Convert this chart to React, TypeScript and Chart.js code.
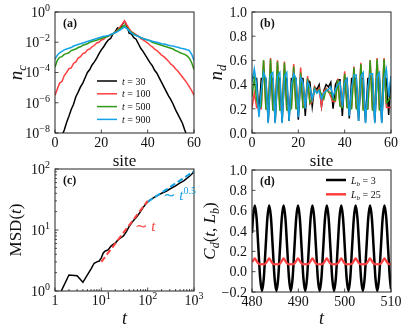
import React, { useEffect, useRef } from "react";
import { Chart, registerables } from "chart.js";

Chart.register(...registerables);

const W = 407;
const H = 335;
const SERIF = '"Liberation Serif", "DejaVu Serif", "Times New Roman", serif';

// ---------------- data ----------------
const sites = [
  0, 1, 2, 3, 4, 5, 6, 7, 8, 9, 10, 11, 12, 13, 14, 15, 16, 17, 18, 19, 20,
  21, 22, 23, 24, 25, 26, 27, 28, 29, 30, 31, 32, 33, 34, 35, 36, 37, 38, 39, 40,
  41, 42, 43, 44, 45, 46, 47, 48, 49, 50, 51, 52, 53, 54, 55, 56, 57, 58, 59, 60,
];

// panel (a): log10 of n_c per site
const ncExp30 = [-9.2, -8.9, -8.6, -8.2, -7.8, -7.3, -6.9, -6.45, -6.1, -5.6, -5.3, -4.95, -4.7, -4.35, -4.0, -3.8, -3.5, -3.3, -3.05, -2.75, -2.5, -2.3, -2.05, -1.85, -1.75, -1.45, -1.3, -1.05, -1.1, -0.85, -0.62, -0.9, -1.4, -1.45, -1.7, -1.8, -2.1, -2.4, -2.6, -2.85, -3.1, -3.35, -3.55, -3.85, -4.05, -4.35, -4.65, -4.95, -5.25, -5.55, -5.8, -6.1, -6.45, -6.75, -7.05, -7.35, -7.8, -8.2, -8.6, -9.0, -9.4];
const ncExp100 = [-5.5, -5.1, -4.7, -4.6, -4.2, -4.0, -3.75, -3.7, -3.4, -3.3, -3.05, -2.95, -2.75, -2.7, -2.5, -2.45, -2.3, -2.2, -2.05, -2.0, -1.85, -1.8, -1.65, -1.6, -1.5, -1.45, -1.35, -1.2, -1.0, -0.8, -0.58, -0.85, -1.1, -1.3, -1.4, -1.5, -1.6, -1.75, -1.85, -1.95, -2.05, -2.2, -2.3, -2.45, -2.55, -2.7, -2.85, -2.95, -3.1, -3.25, -3.45, -3.55, -3.75, -3.9, -4.1, -4.3, -4.5, -4.7, -4.95, -5.2, -5.5];
const ncExp500 = [-3.64, -3.2, -3.0, -2.95, -2.8, -2.75, -2.7, -2.55, -2.5, -2.45, -2.35, -2.3, -2.2, -2.15, -2.1, -2.0, -1.95, -1.9, -1.87, -1.8, -1.75, -1.7, -1.65, -1.6, -1.5, -1.45, -1.35, -1.25, -1.1, -1.0, -0.88, -1.05, -1.2, -1.35, -1.45, -1.55, -1.6, -1.7, -1.75, -1.8, -1.85, -1.9, -2.0, -2.05, -2.1, -2.15, -2.2, -2.25, -2.3, -2.35, -2.4, -2.45, -2.55, -2.6, -2.7, -2.75, -2.8, -2.9, -3.05, -3.35, -3.8];
const ncExp900 = [-3.12, -2.85, -2.7, -2.6, -2.5, -2.45, -2.4, -2.35, -2.25, -2.2, -2.15, -2.1, -2.05, -2.0, -1.95, -1.9, -1.85, -1.8, -1.75, -1.7, -1.65, -1.6, -1.58, -1.55, -1.5, -1.42, -1.37, -1.3, -1.2, -1.1, -0.99, -1.1, -1.25, -1.4, -1.5, -1.55, -1.62, -1.68, -1.75, -1.8, -1.85, -1.88, -1.93, -1.97, -2.0, -2.05, -2.1, -2.12, -2.15, -2.2, -2.23, -2.25, -2.3, -2.33, -2.38, -2.42, -2.45, -2.5, -2.55, -2.8, -3.2];
const legendTimes = ["30", "100", "500", "900"];

// panel (b): n_d per site
const nd30 = [0.47, 0.45, 0.45, 0.15, 0.45, 0.45, 0.45, 0.09, 0.45, 0.45, 0.09, 0.45, 0.45, 0.09, 0.45, 0.45, 0.10, 0.45, 0.45, 0.45, 0.11, 0.45, 0.45, 0.14, 0.44, 0.42, 0.22, 0.38, 0.36, 0.40, 0.22, 0.35, 0.40, 0.38, 0.42, 0.20, 0.40, 0.44, 0.44, 0.14, 0.45, 0.45, 0.12, 0.45, 0.45, 0.45, 0.10, 0.45, 0.45, 0.09, 0.45, 0.45, 0.45, 0.09, 0.45, 0.45, 0.09, 0.45, 0.45, 0.15, 0.47];
const nd100 = [0.21, 0.33, 0.21, 0.20, 0.20, 0.60, 0.20, 0.20, 0.62, 0.20, 0.20, 0.60, 0.20, 0.20, 0.59, 0.20, 0.20, 0.21, 0.57, 0.21, 0.21, 0.54, 0.22, 0.23, 0.47, 0.24, 0.26, 0.38, 0.34, 0.37, 0.22, 0.34, 0.37, 0.35, 0.30, 0.26, 0.26, 0.45, 0.23, 0.22, 0.51, 0.22, 0.21, 0.21, 0.55, 0.21, 0.20, 0.58, 0.20, 0.20, 0.20, 0.60, 0.20, 0.20, 0.62, 0.20, 0.20, 0.62, 0.21, 0.21, 0.21];
const nd500 = [0.30, 0.45, 0.27, 0.20, 0.22, 0.60, 0.20, 0.19, 0.61, 0.19, 0.19, 0.59, 0.19, 0.19, 0.58, 0.19, 0.19, 0.20, 0.55, 0.20, 0.20, 0.50, 0.21, 0.22, 0.45, 0.25, 0.28, 0.37, 0.33, 0.36, 0.32, 0.28, 0.36, 0.34, 0.33, 0.28, 0.27, 0.44, 0.22, 0.21, 0.49, 0.21, 0.20, 0.20, 0.54, 0.20, 0.19, 0.57, 0.19, 0.19, 0.20, 0.60, 0.19, 0.19, 0.61, 0.19, 0.19, 0.61, 0.25, 0.27, 0.30];
const nd900 = [0.42, 0.53, 0.40, 0.13, 0.35, 0.50, 0.45, 0.08, 0.48, 0.50, 0.08, 0.47, 0.50, 0.08, 0.47, 0.50, 0.10, 0.40, 0.49, 0.45, 0.13, 0.46, 0.42, 0.20, 0.42, 0.38, 0.28, 0.36, 0.33, 0.35, 0.28, 0.33, 0.35, 0.36, 0.38, 0.30, 0.36, 0.40, 0.42, 0.22, 0.42, 0.45, 0.14, 0.38, 0.48, 0.48, 0.10, 0.47, 0.50, 0.08, 0.38, 0.49, 0.49, 0.08, 0.47, 0.50, 0.08, 0.45, 0.53, 0.30, 0.47];

// panel (c): MSD(t)
const msdT = [1, 2, 3, 4, 5, 6, 7, 8, 9, 10, 11, 12, 13, 14, 16, 18, 20, 23, 26, 30, 35, 40, 45, 50, 60, 70, 80, 90, 100, 120, 150, 200, 250, 300, 400, 500, 600, 700, 800, 900, 1000];
const msdV = [0.61, 1.83, 1.78, 1.39, 1.84, 2.31, 2.85, 3.0, 3.1, 3.5, 4.2, 4.5, 4.6, 4.7, 5.4, 5.8, 6.1, 6.9, 7.4, 8.0, 9.5, 11.5, 13.0, 14.5, 17.0, 20.0, 23.5, 26.5, 29.0, 32.0, 35.5, 40.0, 43.0, 47.0, 53.0, 59.0, 64.0, 70.0, 76.0, 83.0, 90.0];
const fitLinT = [10, 100];
const fitLinV = [3.0, 30.0];
const fitSqT = [100, 1000];
const fitSqV = [29.0, 92.0];

// panel (d): C_d(t, L_b)
const cdT = [480.00, 480.21, 480.60, 480.99, 481.38, 481.77, 482.16, 482.54, 482.93, 483.32, 483.71, 484.10, 484.49, 484.88, 485.27, 485.65, 486.04, 486.43, 486.82, 487.21, 487.60, 487.99, 488.38, 488.76, 489.15, 489.54, 489.93, 490.32, 490.71, 491.10, 491.49, 491.87, 492.26, 492.65, 493.04, 493.43, 493.82, 494.21, 494.60, 494.98, 495.37, 495.76, 496.15, 496.54, 496.93, 497.32, 497.71, 498.09, 498.48, 498.87, 499.26, 499.65, 500.04, 500.43, 500.82, 501.20, 501.59, 501.98, 502.37, 502.76, 503.15, 503.54, 503.93, 504.31, 504.70, 505.09, 505.48, 505.87, 506.26, 506.65, 507.04, 507.42, 507.81, 508.20, 508.59, 508.98, 509.37, 509.76, 510.00];
const cd3 = [0.38, 0.527,
  0.65, 0.527, 0.23, -0.067, -0.19, -0.067, 0.23, 0.527,
  0.65, 0.527, 0.23, -0.067, -0.19, -0.067, 0.23, 0.527,
  0.65, 0.527, 0.23, -0.067, -0.19, -0.067, 0.23, 0.527,
  0.65, 0.527, 0.23, -0.067, -0.19, -0.067, 0.23, 0.527,
  0.65, 0.527, 0.23, -0.067, -0.19, -0.067, 0.23, 0.527,
  0.65, 0.527, 0.23, -0.067, -0.19, -0.067, 0.23, 0.527,
  0.65, 0.527, 0.23, -0.067, -0.19, -0.067, 0.23, 0.527,
  0.65, 0.527, 0.23, -0.067, -0.19, -0.067, 0.23, 0.527,
  0.65, 0.527, 0.23, -0.067, -0.19, -0.067, 0.23, 0.527,
  0.65, 0.527, 0.23, -0.067, -0.17];
const cd25 = [0.10, 0.105,
  0.13, 0.105, 0.08, 0.072, 0.075, 0.072, 0.08, 0.105,
  0.13, 0.105, 0.08, 0.072, 0.075, 0.072, 0.08, 0.105,
  0.13, 0.105, 0.08, 0.072, 0.075, 0.072, 0.08, 0.105,
  0.13, 0.105, 0.08, 0.072, 0.075, 0.072, 0.08, 0.105,
  0.13, 0.105, 0.08, 0.072, 0.075, 0.072, 0.08, 0.105,
  0.13, 0.105, 0.08, 0.072, 0.075, 0.072, 0.08, 0.105,
  0.13, 0.105, 0.08, 0.072, 0.075, 0.072, 0.08, 0.105,
  0.13, 0.105, 0.08, 0.072, 0.075, 0.072, 0.08, 0.105,
  0.13, 0.105, 0.08, 0.072, 0.075, 0.072, 0.08, 0.105,
  0.13, 0.105, 0.08, 0.072, 0.074];
const legendLb = ["3", "25"];

// tick values
const siteTicks = [0, 20, 40, 60];
const ncTickExps = [0, -2, -4, -6, -8];
const ndTicks = [0, 0.2, 0.4, 0.6, 0.8, 1.0];
const msdXTickExps = [0, 1, 2, 3];
const msdYTickExps = [0, 1, 2];
const cdXTicks = [480, 490, 500, 510];
const cdYTicks = [-0.2, 0, 0.2, 0.4, 0.6, 0.8, 1.0];

// ---------------- colours ----------------
const BLACK = "#000000";
const RED = "#ff4040";
const GREEN = "#2f9a17";
const BLUE = "#14a2e6";

// ---------------- text helpers ----------------
type Part = { t: string; sz: number; it?: boolean; b?: boolean; dy?: number };
const fontOf = (p: Part) => `${p.it ? "italic " : ""}${p.b ? "bold " : ""}${p.sz}px ${SERIF}`;
function richWidth(ctx: CanvasRenderingContext2D, parts: Part[]) {
  let w = 0;
  for (const p of parts) {
    ctx.font = fontOf(p);
    w += ctx.measureText(p.t).width;
  }
  return w;
}
function drawRich(
  ctx: CanvasRenderingContext2D,
  parts: Part[],
  x: number,
  y: number,
  align: "left" | "center" | "right",
  color: string,
  rotate = false
) {
  ctx.save();
  ctx.translate(x, y);
  if (rotate) ctx.rotate(-Math.PI / 2);
  ctx.fillStyle = color;
  ctx.textBaseline = "alphabetic";
  ctx.textAlign = "left";
  const w = richWidth(ctx, parts);
  let cx = align === "left" ? 0 : align === "center" ? -w / 2 : -w;
  for (const p of parts) {
    ctx.font = fontOf(p);
    ctx.fillText(p.t, cx, p.dy || 0);
    cx += ctx.measureText(p.t).width;
  }
  ctx.restore();
}
const minus = (s: string) => s.replace("-", "\u2212");
const pow10 = (e: number): Part[] => [
  { t: "10", sz: 14 },
  { t: minus(String(e)), sz: 10, dy: -6 },
];
const plain = (s: string): Part[] => [{ t: minus(s), sz: 14 }];

type TickSpec = { v: number; parts: Part[] };
type LegendItem = { color: string; parts: Part[] };
type Spec = {
  key: string;
  box: { l: number; t: number; r: number; b: number };
  x: any;
  y: any;
  datasets: any[];
  xTicks: TickSpec[];
  yTicks: TickSpec[];
  xMinor: number[];
  yMinor: number[];
  xTitle: Part[];
  yTitle: Part[];
  xTitleY: number;
  yTitleX: number;
  tag: string;
  legend?: { x0: number; y0: number; dy: number; len: number; lw: number; items: LegendItem[] };
  notes?: { x: number; y: number; color: string; parts: Part[] }[];
};

function decor(spec: Spec) {
  return {
    id: "decor_" + spec.key,
    afterDraw(chart: any) {
      const ctx: CanvasRenderingContext2D = chart.ctx;
      const xs = chart.scales.x;
      const ys = chart.scales.y;
      const a = chart.chartArea;
      ctx.save();
      // frame
      ctx.strokeStyle = "#222";
      ctx.lineWidth = 1;
      ctx.strokeRect(a.left, a.top, a.right - a.left, a.bottom - a.top);
      // inward ticks
      ctx.lineWidth = 0.8;
      ctx.beginPath();
      for (const t of spec.xTicks) {
        const p = xs.getPixelForValue(t.v);
        ctx.moveTo(p, a.bottom);
        ctx.lineTo(p, a.bottom - 3.5);
      }
      for (const v of spec.xMinor) {
        const p = xs.getPixelForValue(v);
        ctx.moveTo(p, a.bottom);
        ctx.lineTo(p, a.bottom - 2);
      }
      for (const t of spec.yTicks) {
        const p = ys.getPixelForValue(t.v);
        ctx.moveTo(a.left, p);
        ctx.lineTo(a.left + 3.5, p);
      }
      for (const v of spec.yMinor) {
        const p = ys.getPixelForValue(v);
        ctx.moveTo(a.left, p);
        ctx.lineTo(a.left + 2, p);
      }
      ctx.stroke();
      // tick labels
      for (const t of spec.xTicks) {
        drawRich(ctx, t.parts, xs.getPixelForValue(t.v), a.bottom + 14, "center", "#111");
      }
      for (const t of spec.yTicks) {
        drawRich(ctx, t.parts, a.left - 5, ys.getPixelForValue(t.v) + 4.8, "right", "#111");
      }
      // axis titles
      drawRich(ctx, spec.xTitle, (a.left + a.right) / 2, spec.xTitleY, "center", "#111");
      drawRich(ctx, spec.yTitle, spec.yTitleX, (a.top + a.bottom) / 2, "center", "#111", true);
      // panel tag
      drawRich(ctx, [{ t: spec.tag, sz: 12, b: true }], a.left + 8, a.top + 15, "left", "#111");
      // legend
      if (spec.legend) {
        const L = spec.legend;
        spec.legend.items.forEach((it, i) => {
          const y = L.y0 + i * L.dy;
          ctx.strokeStyle = it.color;
          ctx.lineWidth = L.lw;
          ctx.beginPath();
          ctx.moveTo(L.x0, y);
          ctx.lineTo(L.x0 + L.len, y);
          ctx.stroke();
          drawRich(ctx, it.parts, L.x0 + L.len + 5, y + 3.5, "left", "#111");
        });
      }
      if (spec.notes) {
        for (const n of spec.notes) drawRich(ctx, n.parts, n.x, n.y, "left", n.color);
      }
      ctx.restore();
    },
  };
}

const pts = (xs: number[], ys: number[]) => xs.map((x, i) => ({ x, y: ys[i] }));
const line = (label: string, data: any[], color: string, width: number, order: number, extra: any = {}) => ({
  label,
  data,
  borderColor: color,
  backgroundColor: color,
  borderWidth: width,
  pointRadius: 0,
  fill: false,
  tension: 0,
  order,
  ...extra,
});

const specs: Spec[] = [
  {
    key: "a",
    box: { l: 55, t: 12, r: 194, b: 133 },
    x: { type: "linear", min: 0, max: 60 },
    y: { type: "logarithmic", min: 1e-8, max: 1 },
    datasets: [
      line("t = 30", pts(sites, ncExp30.map((e) => 10 ** e)), BLACK, 1.5, 4),
      line("t = 100", pts(sites, ncExp100.map((e) => 10 ** e)), RED, 1.5, 3),
      line("t = 500", pts(sites, ncExp500.map((e) => 10 ** e)), GREEN, 1.5, 2),
      line("t = 900", pts(sites, ncExp900.map((e) => 10 ** e)), BLUE, 1.5, 1),
    ],
    xTicks: siteTicks.map((v) => ({ v, parts: plain(String(v)) })),
    yTicks: ncTickExps.map((e) => ({ v: 10 ** e, parts: pow10(e) })),
    xMinor: [],
    yMinor: [],
    xTitle: [{ t: "site", sz: 17 }],
    yTitle: [
      { t: "n", sz: 19, it: true },
      { t: "c", sz: 13, it: true, dy: 4 },
    ],
    xTitleY: 166,
    yTitleX: 22,
    tag: "(a)",
    legend: {
      x0: 97,
      y0: 81,
      dy: 12.8,
      len: 20,
      lw: 1.5,
      items: [BLACK, RED, GREEN, BLUE].map((c, i) => ({
        color: c,
        parts: [
          { t: "t", sz: 10, it: true },
          { t: " = " + legendTimes[i], sz: 10 },
        ],
      })),
    },
  },
  {
    key: "b",
    box: { l: 252, t: 12, r: 391, b: 133 },
    x: { type: "linear", min: 0, max: 60 },
    y: { type: "linear", min: 0, max: 1 },
    datasets: [
      line("t = 30", pts(sites, nd30), BLACK, 1.5, 4),
      line("t = 100", pts(sites, nd100), RED, 1.5, 3),
      line("t = 500", pts(sites, nd500), GREEN, 1.5, 2),
      line("t = 900", pts(sites, nd900), BLUE, 1.5, 1),
    ],
    xTicks: siteTicks.map((v) => ({ v, parts: plain(String(v)) })),
    yTicks: ndTicks.map((v) => ({ v, parts: plain(v.toFixed(1)) })),
    xMinor: [],
    yMinor: [],
    xTitle: [{ t: "site", sz: 17 }],
    yTitle: [
      { t: "n", sz: 19, it: true },
      { t: "d", sz: 13, it: true, dy: 4 },
    ],
    xTitleY: 166,
    yTitleX: 222,
    tag: "(b)",
  },
  {
    key: "c",
    box: { l: 55, t: 169, r: 194, b: 291 },
    x: { type: "logarithmic", min: 1, max: 1000 },
    y: { type: "logarithmic", min: 1, max: 100 },
    datasets: [
      line("MSD", pts(msdT, msdV), BLACK, 1.5, 3),
      line("~t", pts(fitLinT, fitLinV), RED, 2, 1, { borderDash: [6, 3] }),
      line("~t^0.5", pts(fitSqT, fitSqV), BLUE, 2, 2, { borderDash: [6, 3] }),
    ],
    xTicks: msdXTickExps.map((e) => ({ v: 10 ** e, parts: e === 0 ? plain("1") : pow10(e) })),
    yTicks: msdYTickExps.map((e) => ({ v: 10 ** e, parts: pow10(e) })),
    xMinor: [2, 3, 4, 5, 6, 7, 8, 9, 20, 30, 40, 50, 60, 70, 80, 90, 200, 300, 400, 500, 600, 700, 800, 900],
    yMinor: [2, 3, 4, 5, 6, 7, 8, 9, 20, 30, 40, 50, 60, 70, 80, 90],
    xTitle: [{ t: "t", sz: 18, it: true }],
    yTitle: [
      { t: "MSD(", sz: 17 },
      { t: "t", sz: 17, it: true },
      { t: ")", sz: 17 },
    ],
    xTitleY: 324,
    yTitleX: 21,
    tag: "(c)",
    notes: [
      {
        x: 135,
        y: 231,
        color: RED,
        parts: [
          { t: "\u223C ", sz: 15 },
          { t: "t", sz: 15, it: true },
        ],
      },
      {
        x: 163,
        y: 200,
        color: BLUE,
        parts: [
          { t: "\u223C ", sz: 15 },
          { t: "t", sz: 15, it: true },
          { t: "0.5", sz: 10, dy: -6 },
        ],
      },
    ],
  },
  {
    key: "d",
    box: { l: 252, t: 170, r: 391, b: 292 },
    x: { type: "linear", min: 480, max: 510 },
    y: { type: "linear", min: -0.2, max: 1.0 },
    datasets: [
      line("L_b = 3", pts(cdT, cd3), BLACK, 2.5, 2, { cubicInterpolationMode: "monotone" }),
      line("L_b = 25", pts(cdT, cd25), RED, 2.2, 1, { cubicInterpolationMode: "monotone" }),
    ],
    xTicks: cdXTicks.map((v) => ({ v, parts: plain(String(v)) })),
    yTicks: cdYTicks.map((v) => ({ v, parts: plain(v.toFixed(1)) })),
    xMinor: [],
    yMinor: [],
    xTitle: [{ t: "t", sz: 18, it: true }],
    yTitle: [
      { t: "C", sz: 17, it: true },
      { t: "d", sz: 12, it: true, dy: 4 },
      { t: "(", sz: 17 },
      { t: "t", sz: 17, it: true },
      { t: ", ", sz: 17 },
      { t: "L", sz: 17, it: true },
      { t: "b", sz: 12, it: true, dy: 4 },
      { t: ")", sz: 17 },
    ],
    xTitleY: 324,
    yTitleX: 215,
    tag: "(d)",
    legend: {
      x0: 326,
      y0: 180,
      dy: 14.3,
      len: 20,
      lw: 2.5,
      items: [BLACK, RED].map((c, i) => ({
        color: c,
        parts: [
          { t: "L", sz: 10, it: true },
          { t: "b", sz: 7, it: true, dy: 2 },
          { t: " = " + legendLb[i], sz: 10 },
        ],
      })),
    },
  },
];

function makeChart(canvas: HTMLCanvasElement, spec: Spec) {
  return new Chart(canvas, {
    type: "line",
    data: { datasets: spec.datasets },
    options: {
      responsive: false,
      animation: false,
      events: [],
      layout: {
        padding: { left: spec.box.l, top: spec.box.t, right: W - spec.box.r, bottom: H - spec.box.b },
      },
      scales: {
        x: { ...spec.x, display: false },
        y: { ...spec.y, display: false },
      },
      plugins: { legend: { display: false }, tooltip: { enabled: false } },
    } as any,
    plugins: [decor(spec) as any],
  });
}

export default function App() {
  const refs = useRef<(HTMLCanvasElement | null)[]>([]);
  useEffect(() => {
    document.body.style.margin = "0";
    const charts = specs.map((s, i) => makeChart(refs.current[i] as HTMLCanvasElement, s));
    return () => charts.forEach((c) => c.destroy());
  }, []);
  return (
    <div style={{ position: "relative", width: W, height: H, background: "#fff" }}>
      {specs.map((s, i) => (
        <canvas
          key={s.key}
          ref={(el) => {
            refs.current[i] = el;
          }}
          width={W}
          height={H}
          style={{ position: "absolute", left: 0, top: 0, width: W, height: H }}
        />
      ))}
    </div>
  );
}
